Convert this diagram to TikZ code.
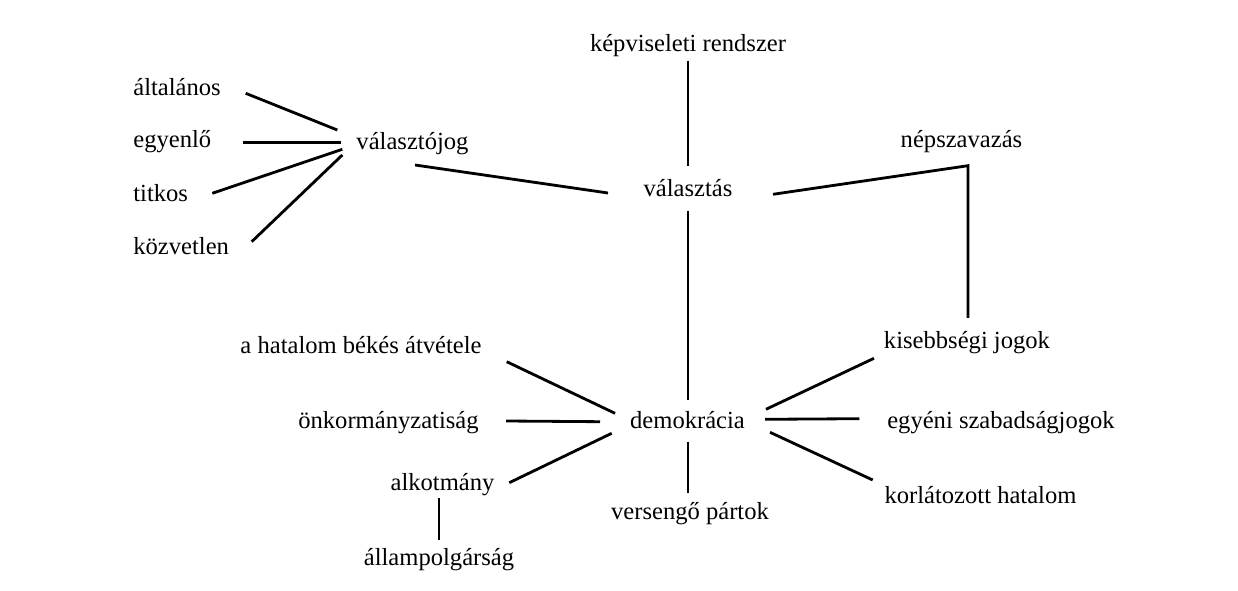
\documentclass[tikz,border=0pt]{standalone}
\usepackage{fontspec}
\setmainfont{Liberation Serif}
\begin{document}
\begin{tikzpicture}[x=0.02cm,y=-0.02cm,
  lbl/.style={inner sep=0pt,font=\fontsize{14}{16}\selectfont},
  lbll/.style={lbl,anchor=base west},
  lblc/.style={lbl,anchor=base},
  conn/.style={line width=1.6pt}]
\useasboundingbox[fill=white] (0,0) rectangle (1238,591);
% labels
\node[lbll] (altalanos) at (133,96) {általános};
\node[lbll] (egyenlo) at (133,147.5) {egyenlő};
\node[lbll] (titkos) at (133,201.5) {titkos};
\node[lbll] (kozvetlen) at (133,255) {közvetlen};
\node[lblc] (valasztojog) at (412.5,149.3) {választójog};
\node[lblc] (kepviseleti) at (688,51.7) {képviseleti rendszer};
\node[lblc] (nepszavazas) at (961.5,147.7) {népszavazás};
\node[lblc] (valasztas) at (688,196.7) {választás};
\node[lblc] (kisebbsegi) at (967,349) {kisebbségi jogok};
\node[lblc] (egyeni) at (1001,428.3) {egyéni szabadságjogok};
\node[lblc] (korlatozott) at (980.5,503.3) {korlátozott hatalom};
\node[lblc] (hatalom) at (361,353.3) {a hatalom békés átvétele};
\node[lblc] (onkorm) at (388.5,428.3) {önkormányzatiság};
\node[lblc] (alkotmany) at (442.5,490) {alkotmány};
\node[lblc] (allampolg) at (439,565) {állampolgárság};
\node[lblc] (demokracia) at (687.5,428.3) {demokrácia};
\node[lblc] (versengo) at (690,519.3) {versengő pártok};
% connector end points
\coordinate (a1) at (245.7,93.3);  \coordinate (a2) at (337.3,130);
\coordinate (e1) at (243.3,142.7); \coordinate (e2) at (340.7,142.7);
\coordinate (t1) at (212.3,193.3); \coordinate (t2) at (342.3,149.3);
\coordinate (k1) at (251.7,241.7); \coordinate (k2) at (342.3,155);
\coordinate (vj1) at (415,165);    \coordinate (vj2) at (608,193);
\coordinate (kr1) at (688,60.7);   \coordinate (kr2) at (688,165.7);
\coordinate (np1) at (773,194.3);  \coordinate (np2) at (968,165.7); \coordinate (np3) at (968,318);
\coordinate (vd1) at (688,210.7);  \coordinate (vd2) at (688,400);
\coordinate (ks1) at (766,409.3);  \coordinate (ks2) at (874,358.3);
\coordinate (eg1) at (765,419.3);  \coordinate (eg2) at (859.3,418.7);
\coordinate (ko1) at (770,432.3);  \coordinate (ko2) at (872.7,480);
\coordinate (h1) at (506.7,361.7); \coordinate (h2) at (615,413.3);
\coordinate (o1) at (506,421);     \coordinate (o2) at (600,421.7);
\coordinate (al1) at (509.3,482.7);\coordinate (al2) at (611.7,433.3);
\coordinate (ap1) at (439,498.3);  \coordinate (ap2) at (439,540);
\coordinate (vp1) at (688,441.7);  \coordinate (vp2) at (688,493.3);
% connectors
\draw[conn] (a1) -- (a2);
\draw[conn] (e1) -- (e2);
\draw[conn] (t1) -- (t2);
\draw[conn] (k1) -- (k2);
\draw[conn] (vj1) -- (vj2);
\draw[conn] (kr1) -- (kr2);
\draw[conn] (np1) -- (np2) -- (np3);
\draw[conn] (vd1) -- (vd2);
\draw[conn] (ks1) -- (ks2);
\draw[conn] (eg1) -- (eg2);
\draw[conn] (ko1) -- (ko2);
\draw[conn] (h1) -- (h2);
\draw[conn] (o1) -- (o2);
\draw[conn] (al1) -- (al2);
\draw[conn] (ap1) -- (ap2);
\draw[conn] (vp1) -- (vp2);
\end{tikzpicture}
\end{document}
